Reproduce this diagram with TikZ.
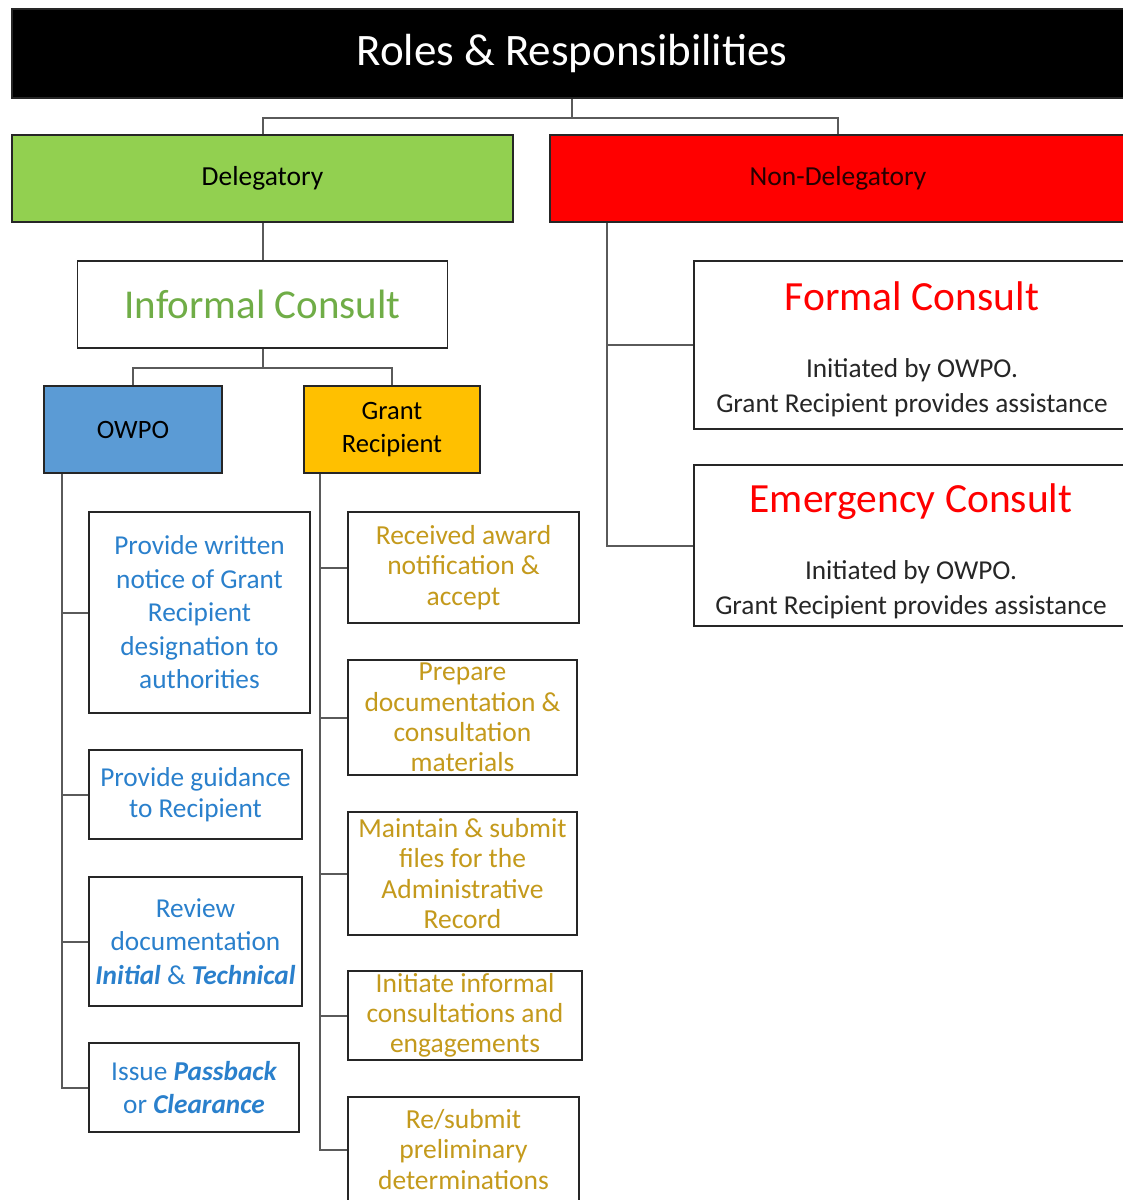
\documentclass[tikz,border=0pt]{standalone}
\usepackage{fontspec}
\setmainfont{Carlito}
\definecolor{boxc}{HTML}{262626}
\definecolor{connc}{HTML}{5A5A5A}
\definecolor{delg}{HTML}{92D050}
\definecolor{ndred}{HTML}{FF0000}
\definecolor{owpob}{HTML}{5B9BD5}
\definecolor{gry}{HTML}{FFC000}
\definecolor{greentxt}{HTML}{70AD47}
\definecolor{bluetxt}{HTML}{2A80CC}
\definecolor{goldtxt}{HTML}{C49A1C}
\newcommand{\fs}[2]{\fontsize{#1}{#2}\selectfont}
\tikzset{
  box/.style={draw=boxc, line width=1.5pt, inner sep=0pt, align=center, rectangle},
  conn/.style={draw=connc, line width=2pt},
  bluebox/.style={box, text=bluetxt, font=\fs{27.3}{33.5}},
  goldbox/.style={box, text=goldtxt, font=\fs{27.5}{30.2}},
}
\begin{document}
\begin{tikzpicture}[x=1pt,y=-1pt]
\useasboundingbox (0,0) rectangle (1123,1200);
\clip (0,0) rectangle (1123,1200);
\fill[white] (0,0) rectangle (1123,1200);

% top level
\node[box, fill=black, text=white, font=\fs{45}{52}, minimum width=1120, minimum height=89] (title) at (572,53.5) {Roles \& Responsibilities};
\node[box, fill=delg, font=\fs{27.5}{32}, minimum width=501, minimum height=87] (del) at (262.5,178.5) {\raisebox{-2pt}{Delegatory}};
\node[box, fill=ndred, text=black!85!red, font=\fs{27.5}{32}, minimum width=576, minimum height=87] (nd) at (838,178.5) {\raisebox{-2pt}{Non-Delegatory}};

\draw[conn] (title.south) -- ++(0,19) coordinate (t1);
\draw[conn] (del.north) |- (t1) -| (nd.north);

% informal consult
\node[box, text=greentxt, font=\fs{41}{48}, minimum width=370, minimum height=87] (ic) at (262.5,304.5) {Informal Consult};
\draw[conn] (del.south) -- (ic.north);

\node[box, fill=owpob, font=\fs{26.5}{33}, minimum width=178, minimum height=87] (owpo) at (133,429.5) {\raisebox{-2pt}{OWPO}};
\node[box, fill=gry, font=\fs{26.5}{33}, minimum width=176, minimum height=87] (gr) at (392,429.5) {Grant\\Recipient};
\draw[conn] (ic.south) -- ++(0,19) coordinate (t2);
\draw[conn] (owpo.north) |- (t2) -| (gr.north);

% OWPO items
\node[bluebox, minimum width=221, minimum height=201] (b1) at (199.5,612.5) {Provide written\\notice of Grant\\Recipient\\designation to\\authorities};
\node[bluebox, font=\fs{27.3}{30.5}, minimum width=213, minimum height=89] (b2) at (195.5,794.5) {Provide guidance\\to Recipient};
\node[bluebox, minimum width=213, minimum height=129] (b3) at (195.5,941.5) {Review\\documentation\\{\bfseries\itshape Initial} \& {\bfseries\itshape Technical}};
\node[bluebox, minimum width=210, minimum height=89] (b4) at (194,1087.5) {Issue {\bfseries\itshape Passback}\\or {\bfseries\itshape Clearance}};

\coordinate (ot) at ([xshift=19pt]owpo.south west);
\draw[conn] (ot) |- (b4.west);
\draw[conn] (ot |- b1.west) -- (b1.west);
\draw[conn] (ot |- b2.west) -- (b2.west);
\draw[conn] (ot |- b3.west) -- (b3.west);

% Grant recipient items
\node[goldbox, minimum width=231, minimum height=111] (g1) at (463.5,567.5) {Received award\\notification \&\\accept};
\node[goldbox, minimum width=229, minimum height=115] (g2) at (462.5,717.5) {Prepare\\documentation \&\\consultation\\materials};
\node[goldbox, minimum width=229, minimum height=123] (g3) at (462.5,873.5) {Maintain \& submit\\files for the\\Administrative\\Record};
\node[goldbox, minimum width=234, minimum height=89] (g4) at (465,1015.5) {Initiate informal\\consultations and\\engagements};
\node[goldbox, minimum width=231, minimum height=105] (g5) at (463.5,1149.5) {Re/submit\\preliminary\\determinations};

\coordinate (gt) at ([xshift=17pt]gr.south west);
\draw[conn] (gt) |- (g5.west);
\draw[conn] (gt |- g1.west) -- (g1.west);
\draw[conn] (gt |- g2.west) -- (g2.west);
\draw[conn] (gt |- g3.west) -- (g3.west);
\draw[conn] (gt |- g4.west) -- (g4.west);

% Non-delegatory items
\node[box, minimum width=436, minimum height=168] (fc) at (912,345) {};
\node[box, minimum width=436, minimum height=161] (ec) at (912,545.5) {};
\node[text=red, font=\fs{41.5}{48}, inner sep=0pt, anchor=base] (fct) at (912,310) {Formal Consult};
\node[text=black!85, font=\fs{27.3}{35}, inner sep=0pt, align=center, anchor=base] (fcd) at (912,412) {Initiated by OWPO.\\Grant Recipient provides assistance};
\node[text=red, font=\fs{41.5}{48}, inner sep=0pt, anchor=base] (ect) at (911,512) {Emergency Consult};
\node[text=black!85, font=\fs{27.3}{35}, inner sep=0pt, align=center, anchor=base] (ecd) at (911,614) {Initiated by OWPO.\\Grant Recipient provides assistance};

\coordinate (nt) at ([xshift=58pt]nd.south west);
\draw[conn] (nt) |- (ec.west);
\draw[conn] (nt |- fc.west) -- (fc.west);
\end{tikzpicture}
\end{document}
